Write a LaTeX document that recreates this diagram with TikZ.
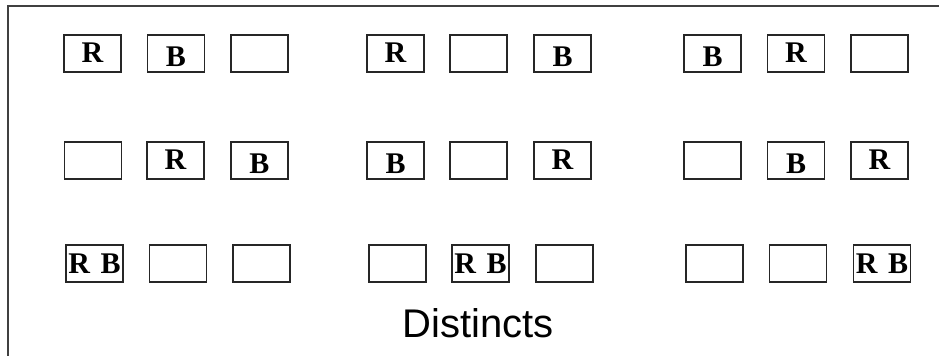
\documentclass[tikz,border=0pt]{standalone}
\usepackage{fontspec}
\setmainfont{Liberation Serif}
\newfontfamily\labelfont{Liberation Sans}
\begin{document}
\begin{tikzpicture}[x=1pt,y=-1pt,
  cell/.style={draw=black!85,line width=1.4pt,rectangle,inner sep=0pt,
    minimum width=57pt,minimum height=37pt,
    font=\fontsize{30}{32}\selectfont\bfseries,text depth=0pt,text height=17pt},
  rl/.style={text height=17pt},
  bl/.style={text height=26pt},
  rbl/.style={text height=19pt,font=\fontsize{30}{32}\selectfont\bfseries},
  frame/.style={draw=black!75,line width=1.6pt}]
\useasboundingbox (0,0) rectangle (939,356);
\coordinate (fa) at (939,6);
\coordinate (fc) at (8,6);
\coordinate (fb) at (8,356);
\draw[frame] (fa) -- (fc) -- (fb);
% row 1
\node[cell,rl] (a11) at (92.5,53.5) {R};
\node[cell,bl] (a12) at (176,53.5) {B};
\node[cell] (a13) at (259.5,53.5) {};
\node[cell,rl] (a14) at (395.5,53.5) {R};
\node[cell] (a15) at (478.5,53.5) {};
\node[cell,bl] (a16) at (562.5,53.5) {B};
\node[cell,bl] (a17) at (712.5,53.5) {B};
\node[cell,rl] (a18) at (796,53.5) {R};
\node[cell] (a19) at (879.5,53.5) {};
% row 2
\node[cell] (b11) at (93,160.5) {};
\node[cell,rl] (b12) at (175.5,160.5) {R};
\node[cell,bl] (b13) at (259.5,160.5) {B};
\node[cell,bl] (b14) at (395.5,160.5) {B};
\node[cell] (b15) at (478.5,160.5) {};
\node[cell,rl] (b16) at (562.5,160.5) {R};
\node[cell] (b17) at (712.5,160.5) {};
\node[cell,bl] (b18) at (796,160.5) {B};
\node[cell,rl] (b19) at (879.5,160.5) {R};
% row 3
\node[cell,rbl] (c11) at (94.5,263.5) {R\hspace{3pt} B};
\node[cell] (c12) at (178,263.5) {};
\node[cell] (c13) at (261.5,263.5) {};
\node[cell] (c14) at (397.5,263.5) {};
\node[cell,rbl] (c15) at (480.5,263.5) {R\hspace{3pt} B};
\node[cell] (c16) at (564.5,263.5) {};
\node[cell] (c17) at (714.5,263.5) {};
\node[cell] (c18) at (798,263.5) {};
\node[cell,rbl] (c19) at (882,263.5) {R\hspace{3pt} B};
\node[font=\labelfont\fontsize{40}{42}\selectfont,inner sep=0pt,anchor=base] (title) at (478,337) {Distincts};
\end{tikzpicture}
\end{document}
